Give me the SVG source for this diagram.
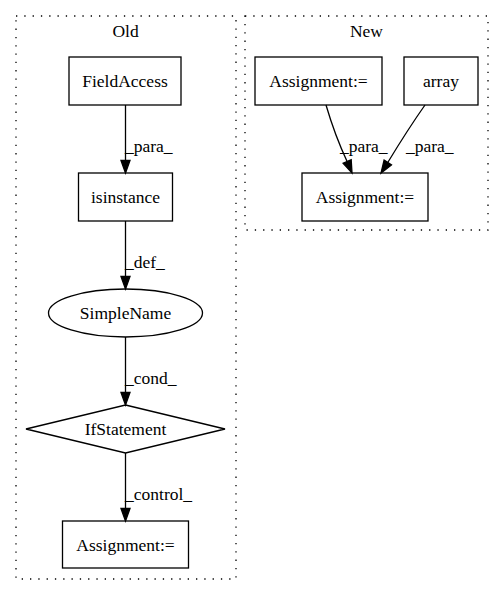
<svg xmlns="http://www.w3.org/2000/svg" width="504" height="596" viewBox="0 0 504 596">
<style>
text{font-family:"Liberation Serif","Times New Roman",serif;font-size:17.5px;fill:#000}
.c{text-anchor:middle}
.cl{fill:none;stroke:#000;stroke-width:1.3;stroke-dasharray:1.3,7}
.n{fill:none;stroke:#000;stroke-width:1.3}
.e{fill:none;stroke:#000;stroke-width:1.3}
.a{fill:#000;stroke:#000;stroke-width:1.3}
</style>
<rect width="504" height="596" fill="#fff"/>
<g id="cluster_old">
<rect class="cl" x="16" y="16" width="220" height="563"/>
<text class="c" x="125.5" y="37">Old</text>
</g>
<g id="cluster_new">
<rect class="cl" x="245" y="16" width="243" height="214"/>
<text class="c" x="366.5" y="37">New</text>
</g>
<g id="FieldAccess">
<rect class="n" x="69" y="57" width="112" height="48"/>
<text class="c" x="125" y="87">FieldAccess</text>
</g>
<g id="isinstance">
<rect class="n" x="78.5" y="173" width="94" height="48"/>
<text class="c" x="125.5" y="203">isinstance</text>
</g>
<g id="SimpleName">
<ellipse class="n" cx="125.5" cy="313" rx="77" ry="24"/>
<text class="c" x="125.5" y="319">SimpleName</text>
</g>
<g id="IfStatement">
<polygon class="n" points="125.5,405 225,429 125.5,453 26,429"/>
<text class="c" x="125.5" y="435">IfStatement</text>
</g>
<g id="Assignment_old">
<rect class="n" x="62.5" y="521" width="126" height="47"/>
<text class="c" x="125.5" y="551">Assignment:=</text>
</g>
<g id="Assignment_new1">
<rect class="n" x="255" y="57" width="127" height="48"/>
<text class="c" x="318.5" y="87">Assignment:=</text>
</g>
<g id="array">
<rect class="n" x="404" y="57" width="74" height="48"/>
<text class="c" x="441" y="87">array</text>
</g>
<g id="Assignment_new2">
<rect class="n" x="302" y="173" width="126" height="48"/>
<text class="c" x="365" y="203">Assignment:=</text>
</g>
<g id="edges">
<path class="e" d="M125.5,105 L125.5,160.5"/>
<polygon class="a" points="121,160.5 125.5,173 130,160.5"/>
<text x="125" y="152">_para_</text>
<path class="e" d="M125.5,221 L125.5,276.5"/>
<polygon class="a" points="121,276.5 125.5,289 130,276.5"/>
<text x="125" y="268">_def_</text>
<path class="e" d="M125.5,337 L125.5,392.5"/>
<polygon class="a" points="121,392.5 125.5,405 130,392.5"/>
<text x="125" y="384">_cond_</text>
<path class="e" d="M125.5,453 L125.5,508.5"/>
<polygon class="a" points="121,508.5 125.5,521 130,508.5"/>
<text x="125" y="500">_control_</text>
<path class="e" d="M326,105 C331,122 338,142 347.1,161.5"/>
<polygon class="a" points="351.2,159.8 352,173 343.1,163.2"/>
<text x="340" y="152">_para_</text>
<path class="e" d="M425,105 C413,122 399,144 387.75,162.5"/>
<polygon class="a" points="391.4,164.9 381,173 384.1,160.1"/>
<text x="406" y="152">_para_</text>
</g>
</svg>
